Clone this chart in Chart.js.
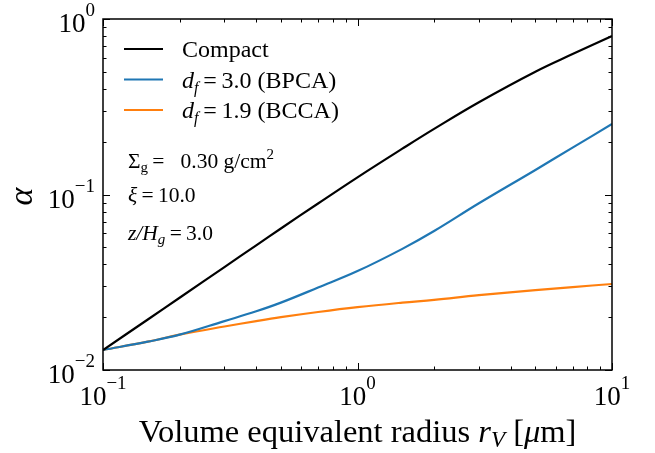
<!DOCTYPE html>
<html>
<head>
<meta charset="utf-8">
<script src="https://cdn.jsdelivr.net/npm/chart.js@4"></script>
<style>
  body { margin: 0; background: #fff; }
  canvas { display: block; }
</style>
</head>
<body>
<canvas id="chart" width="655" height="453"></canvas>
<script>
// Radius values (micron) and alpha for each aggregate type
const radius = [0.1, 0.15, 0.2, 0.3, 0.4, 0.5, 0.7, 1, 1.5, 2, 3, 5, 7, 10];
const compact = [0.0130, 0.0194, 0.0258, 0.0386, 0.0513, 0.0640, 0.0889, 0.1253, 0.1824, 0.2366, 0.3357, 0.501, 0.631, 0.80];
const bpca = [0.0130, 0.0145, 0.0159, 0.0190, 0.0216, 0.0242, 0.0295, 0.0366, 0.0490, 0.0619, 0.0891, 0.138, 0.185, 0.252];
const bcca = [0.0130, 0.0145, 0.0159, 0.0177, 0.0190, 0.0200, 0.0214, 0.0228, 0.0242, 0.0251, 0.0267, 0.0285, 0.0297, 0.0309];

// Decade tick exponents
const xExps = [-1, 0, 1];
const yExps = [-2, -1, 0];

const SERIF = "'Liberation Serif', 'DejaVu Serif', serif";

function toPoints(vals) {
    return radius.map((r, i) => ({ x: r, y: vals[i] }));
}

function line(vals, color) {
    return {
        data: toPoints(vals),
        borderColor: color,
        borderWidth: 2.2,
        pointRadius: 0,
        fill: false,
        tension: 0.4
    };
}

// rich text: list of [text, size, style, dy]
function runWidth(ctx, parts) {
    let w = 0;
    parts.forEach(p => {
        ctx.font = `${p[2] || ''} ${p[1]}px ${SERIF}`;
        w += ctx.measureText(p[0]).width;
    });
    return w;
}

function drawRun(ctx, parts, x, y) {
    ctx.textBaseline = 'alphabetic';
    ctx.textAlign = 'left';
    parts.forEach(p => {
        ctx.font = `${p[2] || ''} ${p[1]}px ${SERIF}`;
        ctx.fillText(p[0], x, y + (p[3] || 0));
        x += ctx.measureText(p[0]).width;
    });
}

function powParts(exp) {
    return [["10", 27], [exp < 0 ? "\u2212" + (-exp) : String(exp), 19, '', -16]];
}

const axesPlugin = {
    id: 'axesPlugin',
    afterDraw(chart) {
        const { ctx, chartArea: a, scales: { x, y } } = chart;
        ctx.save();
        ctx.fillStyle = '#000';
        ctx.strokeStyle = '#000';

        // inward ticks on all sides
        ctx.lineWidth = 1;
        ctx.beginPath();
        xExps.forEach(e => {
            for (let m = 1; m <= 9; m++) {
                const v = m * Math.pow(10, e);
                if (v > x.max * 1.0001) break;
                const px = Math.round(x.getPixelForValue(v)) + 0.5;
                const len = m === 1 ? 7 : 3.5;
                ctx.moveTo(px, a.bottom); ctx.lineTo(px, a.bottom - len);
                ctx.moveTo(px, a.top); ctx.lineTo(px, a.top + len);
            }
        });
        yExps.forEach(e => {
            for (let m = 1; m <= 9; m++) {
                const v = m * Math.pow(10, e);
                if (v > y.max * 1.0001) break;
                const py = Math.round(y.getPixelForValue(v)) + 0.5;
                const len = m === 1 ? 7 : 3.5;
                ctx.moveTo(a.left, py); ctx.lineTo(a.left + len, py);
                ctx.moveTo(a.right, py); ctx.lineTo(a.right - len, py);
            }
        });
        ctx.stroke();

        // frame
        ctx.lineWidth = 1.5;
        ctx.strokeRect(a.left, a.top, a.right - a.left, a.bottom - a.top);

        // tick labels
        xExps.forEach(e => {
            const parts = powParts(e);
            const px = x.getPixelForValue(Math.pow(10, e));
            drawRun(ctx, parts, px - runWidth(ctx, parts) / 2, a.bottom + 35);
        });
        yExps.forEach(e => {
            const parts = powParts(e);
            const py = y.getPixelForValue(Math.pow(10, e));
            drawRun(ctx, parts, a.left - 8 - runWidth(ctx, parts), py + 13);
        });

        // axis titles
        const xt = [["Volume equivalent radius ", 32.5], ["r", 32.5, 'italic'], ["V", 23, 'italic', 5],
                    [" [", 32.5], ["\u03bc", 32.5, 'italic'], ["m]", 32.5]];
        drawRun(ctx, xt, (a.left + a.right) / 2 - runWidth(ctx, xt) / 2, a.bottom + 72);

        ctx.save();
        ctx.translate(32, (a.top + a.bottom) / 2 + 2);
        ctx.rotate(-Math.PI / 2);
        const yt = [["\u03b1", 34, 'italic']];
        drawRun(ctx, yt, -runWidth(ctx, yt) / 2, 0);
        ctx.restore();

        // legend
        const legend = [
            ['#000000', [["Compact", 24]]],
            ['#1f77b4', [["d", 24, 'italic'], ["f", 16, 'italic', 5], ["\u2009=\u20093.0 (BPCA)", 24]]],
            ['#ff7f0e', [["d", 24, 'italic'], ["f", 16, 'italic', 5], ["\u2009=\u20091.9 (BCCA)", 24]]]
        ];
        legend.forEach((item, i) => {
            const cy = a.top + 30 + i * 30.5;
            ctx.strokeStyle = item[0];
            ctx.lineWidth = 2.2;
            ctx.beginPath();
            ctx.moveTo(a.left + 21, cy);
            ctx.lineTo(a.left + 60, cy);
            ctx.stroke();
            drawRun(ctx, item[1], a.left + 79, cy + 8);
        });

        // parameter notes
        drawRun(ctx, [["\u03a3", 21.5], ["g", 15, '', 4], ["\u2009=\u2002 0.30 g/cm", 21.5], ["2", 15, '', -9]], a.left + 25, 168);
        drawRun(ctx, [["\u03be", 21.5, 'italic'], ["\u2009=\u200910.0", 21.5]], a.left + 25, 202);
        drawRun(ctx, [["z/H", 21.5, 'italic'], ["g", 15, 'italic', 4], ["\u2009=\u20093.0", 21.5]], a.left + 25, 240);

        ctx.restore();
    }
};

const hiddenAxis = (min, max) => ({
    type: 'logarithmic',
    min: min,
    max: max,
    ticks: { display: false },
    grid: { display: false, drawTicks: false },
    border: { display: false }
});

new Chart(document.getElementById('chart'), {
    type: 'line',
    data: {
        datasets: [
            line(compact, '#000000'),
            line(bpca, '#1f77b4'),
            line(bcca, '#ff7f0e')
        ]
    },
    options: {
        responsive: false,
        animation: false,
        layout: { padding: { left: 103, right: 43, top: 19, bottom: 83 } },
        plugins: { legend: { display: false }, tooltip: { enabled: false } },
        scales: {
            x: hiddenAxis(0.1, 10),
            y: hiddenAxis(0.01, 1)
        }
    },
    plugins: [axesPlugin]
});
</script>
</body>
</html>
